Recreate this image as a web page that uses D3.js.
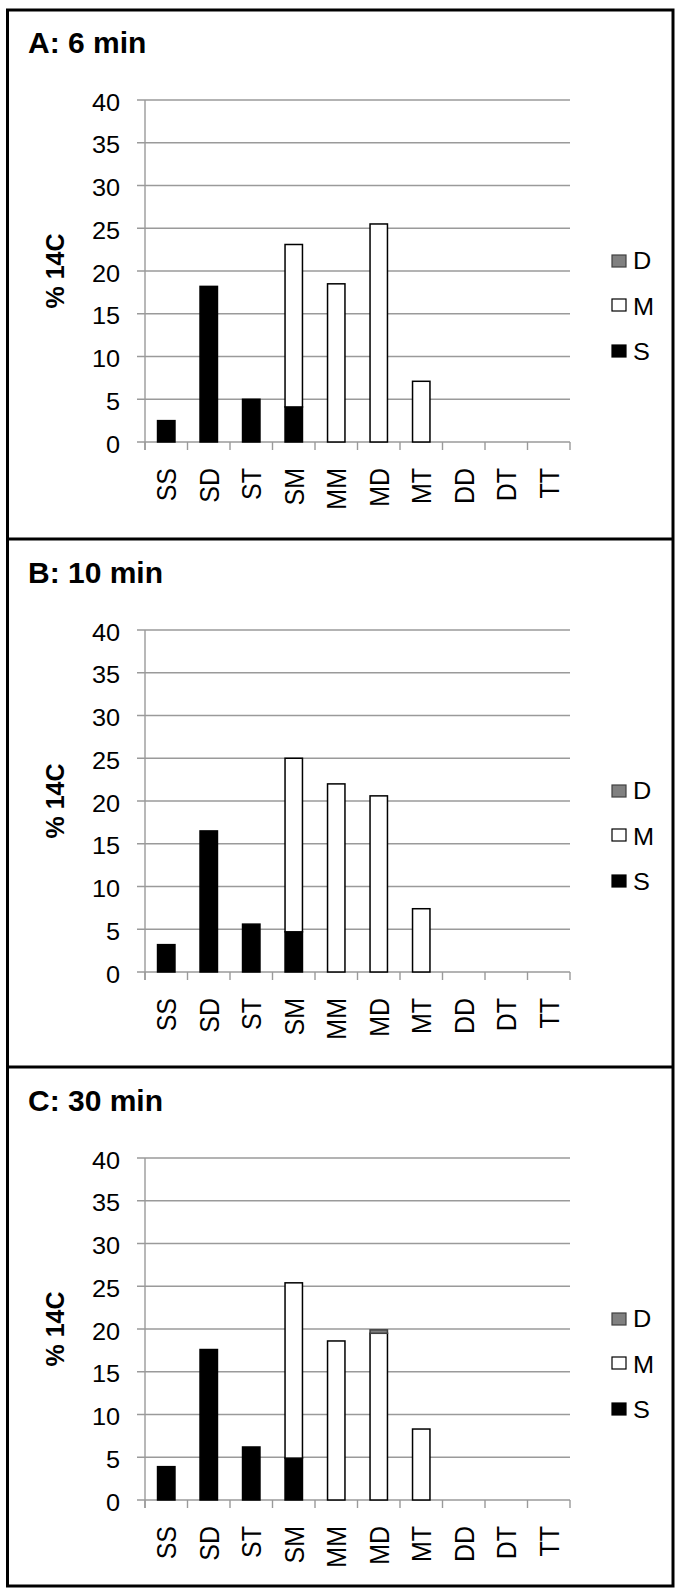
<!DOCTYPE html>
<html>
<head>
<meta charset="utf-8">
<script src="https://cdn.jsdelivr.net/npm/d3@7"></script>
<style>
  body { margin: 0; background: #fff; }
  text { font-family: 'Liberation Sans', Arial, sans-serif; fill: #000; }
</style>
</head>
<body>
<div id="chart-area"></div>
<script>
// data
var categories = ['SS', 'SD', 'ST', 'SM', 'MM', 'MD', 'MT', 'DD', 'DT', 'TT']
var panelTitles = ['A: 6 min', 'B: 10 min', 'C: 30 min']
var seriesKeys = ['S', 'M', 'D']
var yTicks = [0, 5, 10, 15, 20, 25, 30, 35, 40]

var sValues = [
  [2.5, 18.2, 5.0, 4.1, 0, 0, 0, 0, 0, 0],
  [3.2, 16.5, 5.6, 4.7, 0, 0, 0, 0, 0, 0],
  [3.9, 17.6, 6.2, 4.9, 0, 0, 0, 0, 0, 0]
]
var mValues = [
  [0, 0, 0, 19.0, 18.5, 25.5, 7.1, 0, 0, 0],
  [0, 0, 0, 20.3, 22.0, 20.6, 7.4, 0, 0, 0],
  [0, 0, 0, 20.5, 18.6, 19.5, 8.3, 0, 0, 0]
]
var dValues = [
  [0, 0, 0, 0, 0, 0, 0, 0, 0, 0],
  [0, 0, 0, 0, 0, 0, 0, 0, 0, 0],
  [0, 0, 0, 0, 0, 0.4, 0, 0, 0, 0]
]

// layout
var width = 675
var height = 1589
var plotLeft = 145
var plotRight = 570
var plotH = 342
var panelTops = [10, 539, 1067]
var plotTops = [100, 630, 1158]

var fills = { S: '#000', M: '#fff', D: '#808080' }
var strokes = { S: '#000', M: '#000', D: '#404040' }
var gridColor = '#9a9a9a'

var svg = d3.select('#chart-area')
  .append('svg')
  .attr('width', width)
  .attr('height', height)

// panel frames
svg.append('rect')
  .attr('x', 7.5)
  .attr('y', panelTops[0])
  .attr('width', 673 - 7.5)
  .attr('height', 1586 - panelTops[0])
  .attr('fill', 'none')
  .attr('stroke', '#000')
  .attr('stroke-width', 3)

panelTops.slice(1).forEach(function (t) {
  svg.append('line')
    .attr('x1', 7.5).attr('x2', 673)
    .attr('y1', t).attr('y2', t)
    .attr('stroke', '#000')
    .attr('stroke-width', 3)
})

var x = d3.scaleBand()
  .domain(categories)
  .range([plotLeft, plotRight])
  .padding(0)

var barW = x.bandwidth() * 0.41

var stack = d3.stack().keys(seriesKeys)

panelTitles.forEach(function (title, p) {
  var top = plotTops[p]
  var y = d3.scaleLinear()
    .domain([0, 40])
    .range([top + plotH, top])

  var g = svg.append('g').attr('class', 'panel')

  // title
  g.append('text')
    .attr('x', 28)
    .attr('y', top - 47.5)
    .attr('font-size', '30px')
    .attr('font-weight', 'bold')
    .text(title)

  // gridlines (with outward tick)
  g.selectAll('.grid')
    .data(yTicks)
    .enter().append('line')
    .attr('class', 'grid')
    .attr('x1', plotLeft - 8)
    .attr('x2', plotRight)
    .attr('y1', function (d) { return y(d) })
    .attr('y2', function (d) { return y(d) })
    .attr('stroke', gridColor)
    .attr('stroke-width', 1.4)

  // y axis line
  g.append('line')
    .attr('x1', plotLeft).attr('x2', plotLeft)
    .attr('y1', y(40)).attr('y2', y(0) + 8)
    .attr('stroke', gridColor)
    .attr('stroke-width', 1.4)

  // x ticks at category boundaries
  var bounds = categories.map(function (c) { return x(c) }).concat([plotRight])
  g.selectAll('.xtick')
    .data(bounds)
    .enter().append('line')
    .attr('class', 'xtick')
    .attr('x1', function (d) { return d })
    .attr('x2', function (d) { return d })
    .attr('y1', y(0))
    .attr('y2', y(0) + 8)
    .attr('stroke', gridColor)
    .attr('stroke-width', 1.4)

  // y tick labels
  g.selectAll('.ylab')
    .data(yTicks)
    .enter().append('text')
    .attr('class', 'ylab')
    .attr('text-anchor', 'end')
    .attr('font-size', '23px')
    .attr('transform', function (d) { return 'translate(120,' + (y(d) + 10.5) + ') scale(1.1,1)' })
    .text(function (d) { return d })

  // category labels
  g.selectAll('.xlab')
    .data(categories)
    .enter().append('text')
    .attr('class', 'xlab')
    .attr('text-anchor', 'end')
    .attr('font-size', '25px')
    .attr('transform', function (d) {
      return 'translate(' + (x(d) + x.bandwidth() / 2 + 10) + ',' + (y(0) + 26) + ') scale(1.1,1) rotate(-90)'
    })
    .text(function (d) { return d })

  // y axis title
  g.append('text')
    .attr('text-anchor', 'middle')
    .attr('font-size', '25px')
    .attr('font-weight', 'bold')
    .attr('transform', 'translate(64,' + (top + plotH / 2) + ') scale(1.05,1) rotate(-90)')
    .text('% 14C')

  // stacked bars
  var rows = categories.map(function (c, i) {
    return { cat: c, S: sValues[p][i], M: mValues[p][i], D: dValues[p][i] }
  })
  var layers = stack(rows)

  layers.forEach(function (layer) {
    var key = layer.key
    g.selectAll('.bar-' + key)
      .data(layer.filter(function (d) { return d[1] - d[0] > 0 }))
      .enter().append('rect')
      .attr('class', 'bar-' + key)
      .attr('x', function (d) { return x(d.data.cat) + (x.bandwidth() - barW) / 2 })
      .attr('width', barW)
      .attr('y', function (d) { return y(d[1]) })
      .attr('height', function (d) { return y(d[0]) - y(d[1]) })
      .attr('fill', fills[key])
      .attr('stroke', strokes[key])
      .attr('stroke-width', 1.5)
  })

  // legend, listed top to bottom as D, M, S
  var legendKeys = ['D', 'M', 'S']
  var legendSwatchY = [155, 199, 245]
  var legendTextY = [169, 215, 259.5]
  legendKeys.forEach(function (k, i) {
    g.append('rect')
      .attr('x', 612)
      .attr('y', top + legendSwatchY[i])
      .attr('width', 14)
      .attr('height', 12)
      .attr('fill', fills[k])
      .attr('stroke', strokes[k])
      .attr('stroke-width', 1.2)
    g.append('text')
      .attr('font-size', '23px')
      .attr('transform', 'translate(633,' + (top + legendTextY[i]) + ') scale(1.1,1)')
      .text(k)
  })
})
</script>
</body>
</html>
